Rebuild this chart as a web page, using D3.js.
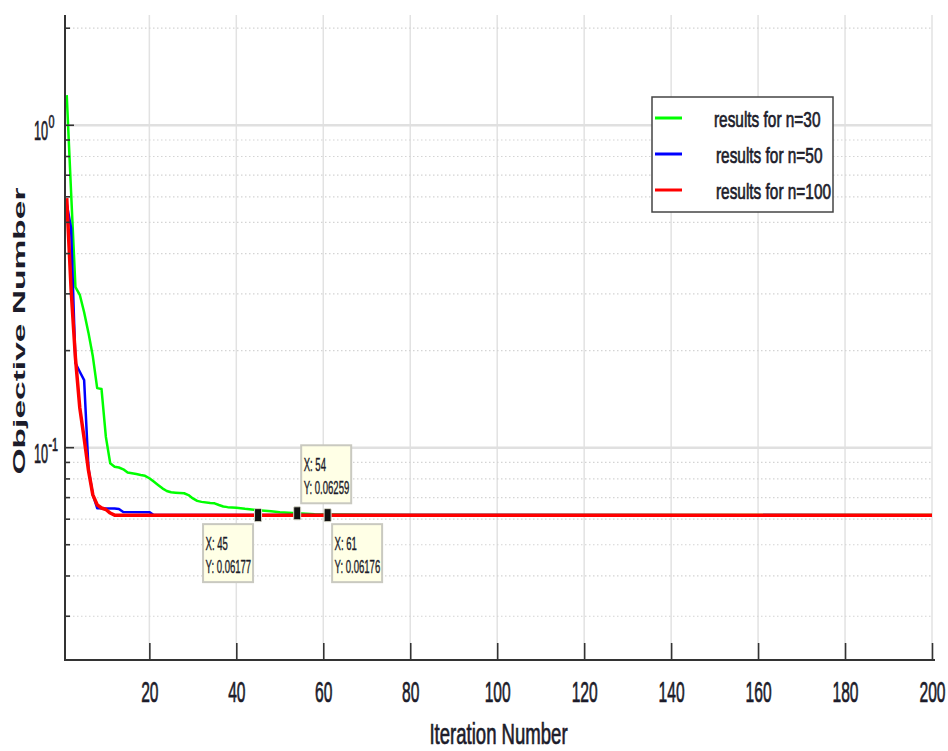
<!DOCTYPE html>
<html>
<head>
<meta charset="utf-8">
<script src="https://cdn.jsdelivr.net/npm/d3@7"></script>
<style>
  html, body { margin: 0; padding: 0; background: #fff; }
  svg { display: block; }
  text { font-family: "Liberation Sans", Arial, sans-serif; fill: #1c1c2a; }
  .heavy { stroke: #1c1c2a; stroke-width: 0.7px; }
  .tiptext { stroke: #1c1c2a; stroke-width: 0.4px; }
</style>
</head>
<body>
<svg id="chart" width="948" height="751"></svg>
<script>
// Convergence of the objective for three problem sizes: [iteration, objective]
const seriesNames = ["results for n=30", "results for n=50", "results for n=100"];
const seriesColors = ["#00ff00", "#0000ff", "#ff0000"];

const resultsN30 = [
  [1, 1.24], [2, 0.62], [3, 0.315], [4, 0.298], [5, 0.263], [6, 0.227], [7, 0.192],
  [8, 0.153], [9, 0.152], [10, 0.108], [11, 0.0895], [12, 0.0873], [13, 0.0868],
  [14, 0.0857], [15, 0.0837], [16, 0.0833], [17, 0.0829], [18, 0.0823], [19, 0.0818],
  [20, 0.0804], [21, 0.0785], [22, 0.0766], [23, 0.0748], [24, 0.0734], [25, 0.0727],
  [26, 0.0725], [28, 0.0722], [29, 0.0713], [30, 0.0696], [31, 0.0684], [32, 0.0679],
  [34, 0.0674], [35, 0.0672], [36, 0.0664], [37, 0.0657], [38, 0.0654], [40, 0.0651],
  [42, 0.0646], [44, 0.0642], [45, 0.0640], [48, 0.0635], [50, 0.0631], [54, 0.06259],
  [58, 0.0622], [62, 0.0620], [70, 0.0619], [80, 0.06185], [200, 0.06182]
];
const resultsN50 = [
  [1, 0.57], [2, 0.48], [3, 0.183], [4, 0.172], [5, 0.162], [6, 0.086], [7, 0.0715],
  [8, 0.0649], [12, 0.0648], [13, 0.0645], [14, 0.0632], [20, 0.0631], [21, 0.06178],
  [200, 0.06177]
];
const resultsN100 = [
  [1, 0.594], [2, 0.31], [3, 0.19], [4, 0.133], [5, 0.107], [6, 0.085], [7, 0.0714],
  [8, 0.0665], [9, 0.065], [10, 0.0643], [11, 0.0627], [12, 0.06177], [45, 0.06177],
  [61, 0.06176], [200, 0.06176]
];

// Axis ticks
const xTicks = [20, 40, 60, 80, 100, 120, 140, 160, 180, 200];
const yMajorTicks = [0.1, 1];
const yMajorExponents = ["-1", "0"];
const yMinorTicks = [0.03, 0.04, 0.05, 0.06, 0.07, 0.08, 0.09,
                     0.2, 0.3, 0.4, 0.5, 0.6, 0.7, 0.8, 0.9, 2];

// Data tips
const tipX = [45, 54, 61];
const tipY = [0.06177, 0.06259, 0.06176];
const tipSide = ["below-left", "above-right", "below-right"];

const svg = d3.select("#chart");
const plot = { left: 65, right: 932, top: 15, bottom: 660 };

const x = d3.scaleLinear().domain([0.6, 200]).range([plot.left, plot.right]);
const y = d3.scaleLog().domain([0.02195, 2.198]).range([plot.bottom, plot.top]);

// Grid
const grid = svg.append("g");
grid.selectAll(".vgrid").data(xTicks).join("line")
  .attr("x1", d => x(d)).attr("x2", d => x(d))
  .attr("y1", plot.top).attr("y2", plot.bottom)
  .attr("stroke", "#e2e2e2").attr("stroke-width", 1.5);
grid.selectAll(".mgrid").data(yMinorTicks).join("line")
  .attr("x1", plot.left).attr("x2", plot.right)
  .attr("y1", d => y(d)).attr("y2", d => y(d))
  .attr("stroke", "#d4d4d4").attr("stroke-width", 1.2)
  .attr("stroke-dasharray", "1.5,2.5");
grid.selectAll(".Mgrid").data(yMajorTicks).join("line")
  .attr("x1", plot.left).attr("x2", plot.right)
  .attr("y1", d => y(d)).attr("y2", d => y(d))
  .attr("stroke", "#e0e0e0").attr("stroke-width", 2.5);

// Curves
const line = d3.line().x(d => x(d[0])).y(d => y(d[1]));
const allSeries = [resultsN30, resultsN50, resultsN100];
const widths = [2.5, 2.5, 3.5];
svg.append("g").selectAll("path").data(allSeries).join("path")
  .attr("d", line)
  .attr("fill", "none")
  .attr("stroke", (d, i) => seriesColors[i])
  .attr("stroke-width", (d, i) => widths[i])
  .attr("stroke-linejoin", "round");

// X axis
const xAxis = d3.axisBottom(x).tickValues(xTicks).tickSize(-17).tickPadding(22)
  .tickFormat(d3.format("d"));
const gx = svg.append("g").attr("transform", `translate(0,${plot.bottom})`).call(xAxis);
gx.select(".domain").attr("stroke", "#333").attr("stroke-width", 2)
  .attr("d", `M${plot.left},0H${plot.right + 3}`);
gx.selectAll(".tick line").attr("stroke", "#333").attr("stroke-width", 1.6);
gx.selectAll(".tick text")
  .attr("class", "heavy")
  .attr("font-family", "Liberation Sans, Arial, sans-serif")
  .attr("font-size", 30).attr("fill", "#1c1c2a")
  .attr("y", 0).attr("dy", null)
  .attr("transform", "translate(0,42) scale(0.52,1)");

// Y axis line and ticks
const gy = svg.append("g");
gy.append("line")
  .attr("x1", plot.left).attr("x2", plot.left)
  .attr("y1", plot.top).attr("y2", plot.bottom + 1)
  .attr("stroke", "#333").attr("stroke-width", 2);
gy.selectAll(".ymaj").data(yMajorTicks).join("line")
  .attr("x1", plot.left).attr("x2", plot.left + 9)
  .attr("y1", d => y(d)).attr("y2", d => y(d))
  .attr("stroke", "#333").attr("stroke-width", 1.6);
gy.selectAll(".ymin").data(yMinorTicks).join("line")
  .attr("x1", plot.left).attr("x2", plot.left + 5)
  .attr("y1", d => y(d)).attr("y2", d => y(d))
  .attr("stroke", "#333").attr("stroke-width", 1.6);

// Y tick labels: 10 with superscript exponent
yMajorTicks.forEach((v, i) => {
  const yy = y(v) + 15;
  gy.append("text")
    .attr("class", "heavy")
    .attr("text-anchor", "end")
    .attr("font-size", 27)
    .attr("transform", `translate(48,${yy}) scale(0.47,1)`)
    .text("10");
  gy.append("text")
    .attr("class", "heavy")
    .attr("text-anchor", "start")
    .attr("font-size", 18)
    .attr("transform", `translate(48.5,${yy - 12}) scale(0.6,1)`)
    .text(yMajorExponents[i]);
});

// Axis titles
svg.append("text")
  .attr("class", "heavy")
  .attr("text-anchor", "middle")
  .attr("font-size", 29)
  .attr("transform", "translate(498.5,743.5) scale(0.64,1)")
  .text("Iteration Number");
svg.append("text")
  .attr("text-anchor", "middle")
  .attr("font-size", 17)
  .attr("font-weight", "bold")
  .attr("fill", "#111")
  .attr("textLength", 287)
  .attr("lengthAdjust", "spacingAndGlyphs")
  .attr("transform", "translate(25,331) rotate(-90)")
  .text("Objective Number");

// Data tips
const tips = svg.append("g");
tipX.forEach((tx, i) => {
  const px = x(tx), py = y(tipY[i]);
  const w = 50, h = 58;
  let bx, by;
  if (tipSide[i] === "below-left") { bx = px - 5 - w; by = py + 9; }
  else if (tipSide[i] === "above-right") { bx = px + 4; by = py - 10 - h; }
  else { bx = px + 4.5; by = py + 9; }
  tips.append("rect")
    .attr("x", bx).attr("y", by).attr("width", w).attr("height", h)
    .attr("fill", "#ffffe6").attr("stroke", "#c9c9c0").attr("stroke-width", 2);
  tips.append("text")
    .attr("class", "tiptext")
    .attr("font-size", 18)
    .attr("transform", `translate(${bx + 2.5},${by + 26}) scale(0.53,1)`)
    .text(`X: ${tx}`);
  tips.append("text")
    .attr("class", "tiptext")
    .attr("font-size", 18)
    .attr("transform", `translate(${bx + 2.5},${by + 48.5}) scale(0.53,1)`)
    .text(`Y: ${tipY[i]}`);
  tips.append("rect")
    .attr("x", px - 3.5).attr("y", py - 6.5).attr("width", 7).attr("height", 13)
    .attr("rx", 1).attr("fill", "#111").attr("stroke", "#d8d8c8").attr("stroke-width", 1);
});

// Legend
const legend = svg.append("g");
legend.append("rect")
  .attr("x", 652).attr("y", 97).attr("width", 181).attr("height", 115)
  .attr("fill", "#fff").attr("stroke", "#444").attr("stroke-width", 1.5);
const rowY = [118, 154, 190];
seriesNames.forEach((name, i) => {
  legend.append("line")
    .attr("x1", 655).attr("x2", 682)
    .attr("y1", rowY[i]).attr("y2", rowY[i])
    .attr("stroke", seriesColors[i]).attr("stroke-width", 3);
  legend.append("text")
    .attr("class", "heavy")
    .attr("font-size", 22)
    .attr("transform", `translate(${i === 0 ? 714 : 716},${rowY[i] + 8.5}) scale(0.70,1)`)
    .text(name);
});
</script>
</body>
</html>
